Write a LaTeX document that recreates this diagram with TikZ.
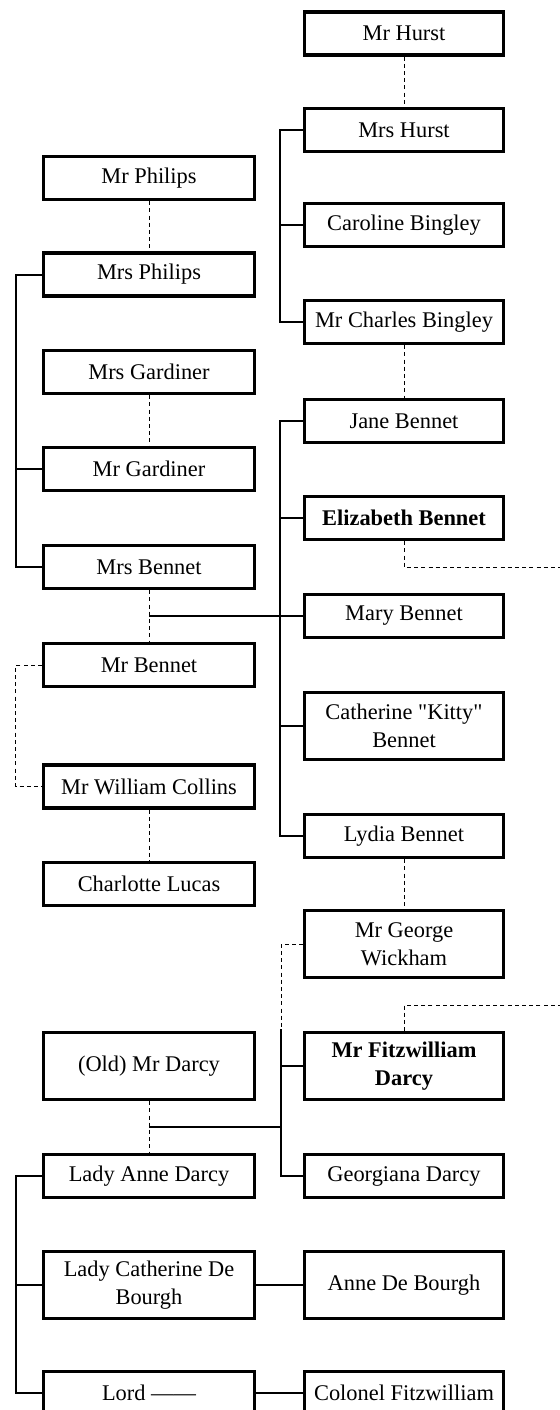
\documentclass[tikz,border=0pt]{standalone}
\usepackage{fontspec}
\setmainfont{Liberation Serif}[Ligatures=TeXOff]
\usetikzlibrary{calc}

\begin{document}
\begin{tikzpicture}[x=0.5pt,y=-0.5pt,
  person/.style={draw,line width=1.6pt,align=center,inner sep=2pt,
    font=\fontsize{11.2}{13.8}\selectfont,minimum height=21.5pt},
  lbox/.style={person,minimum width=105.5pt},
  rbox/.style={person,minimum width=99.5pt},
  tall/.style={minimum height=33.5pt},
  kin/.style={line width=1pt},
  wed/.style={line width=0.5pt,dash pattern=on 2pt off 1.6pt}]
\useasboundingbox (0,0) rectangle (559,1410);
% left column
\foreach \nm/\yy/\txt in {philips/178/Mr Philips, mrsphilips/274.5/Mrs Philips,
  mrsgardiner/372/Mrs Gardiner, gardiner/469/Mr Gardiner, mrsbennet/567/Mrs Bennet,
  mrbennet/665/Mr Bennet, collins/786.5/Mr William Collins, charlotte/884/Charlotte Lucas,
  ladyanne/1176/Lady Anne Darcy, lord/1393/Lord ——}{
  \node[lbox] (\nm) at (149,\yy) {\txt};
}
\node[lbox,tall] (olddarcy) at (149,1066) {(Old) Mr Darcy};
\node[lbox,tall] (ladycath) at (149,1285) {Lady Catherine De\\Bourgh};
% right column
\foreach \nm/\yy/\txt in {hurst/33.5/Mr Hurst, mrshurst/130/Mrs Hurst,
  caroline/225/Caroline Bingley, bingley/322/Mr Charles Bingley, jane/421/Jane Bennet,
  mary/616/Mary Bennet, lydia/836/Lydia Bennet, georgiana/1176/Georgiana Darcy,
  colonel/1393/Colonel Fitzwilliam}{
  \node[rbox] (\nm) at (404,\yy) {\txt};
}
\node[rbox,font=\fontsize{11.2}{13.8}\selectfont\bfseries] (elizabeth) at (404,518) {Elizabeth Bennet};
\node[rbox,tall] (kitty) at (404,726) {Catherine "Kitty"\\Bennet};
\node[rbox,tall] (wickham) at (404,944) {Mr George\\Wickham};
\node[rbox,tall,font=\fontsize{11.2}{13.8}\selectfont\bfseries] (fdarcy) at (404,1066) {Mr Fitzwilliam\\Darcy};
\node[rbox,tall] (annedb) at (404,1285) {Anne De Bourgh};

% marriages
\foreach \a/\b in {hurst/mrshurst, bingley/jane, philips/mrsphilips, mrsgardiner/gardiner,
  collins/charlotte, lydia/wickham}{
  \draw[wed] (\a.south) -- (\b.north);
}
\draw[wed] (mrsbennet.south) -- (mrbennet.north) coordinate[pos=0.5] (bennets);
\draw[wed] (olddarcy.south) -- (ladyanne.north) coordinate[pos=0.5] (darcys);
\coordinate (wedR1) at (575,567);
\coordinate (wedR2) at (575,1005);
\draw[wed] (elizabeth.south) |- (wedR1) -- (wedR2) -| (fdarcy.north);
\draw[wed] (mrbennet.west) -- ++(-26,0) |- (collins.west);

% siblings
\draw[kin] (mrshurst.west) -- ++(-23,0) |- (bingley.west);
\draw[kin] (caroline.west) -- ++(-23,0);
\draw[kin] (jane.west) -- ++(-23,0) |- (lydia.west);
\foreach \n in {elizabeth,kitty}{\draw[kin] (\n.west) -- ++(-23,0);}
\draw[kin] (bennets) -- (bennets -| mary.west);
\draw[kin] (mrsphilips.west) -- ++(-26,0) |- (mrsbennet.west);
\draw[kin] (gardiner.west) -- ++(-26,0);
\coordinate (dbus) at (281,1029);
\draw[wed] (wickham.west) -| (dbus);
\draw[kin] (dbus) |- (georgiana.west);
\draw[kin] (fdarcy.west) -- (fdarcy.west -| dbus);
\draw[kin] (darcys) -- (darcys -| dbus);
\draw[kin] (ladyanne.west) -- ++(-26,0) |- (lord.west);
\draw[kin] (ladycath.west) -- ++(-26,0);
\draw[kin] (ladycath.east) -- (annedb.west);
\draw[kin] (lord.east) -- (colonel.west);
\end{tikzpicture}
\end{document}
